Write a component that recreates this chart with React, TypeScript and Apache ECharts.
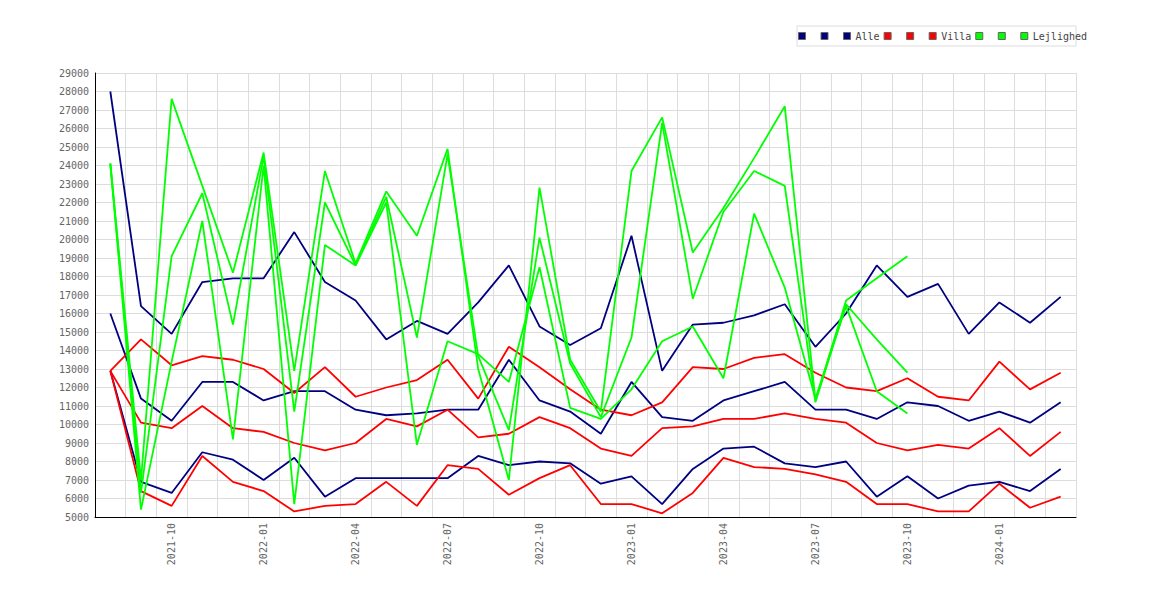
import React, { useEffect, useRef } from "react";
import * as echarts from "echarts";

const months = [
  "2021-08", "2021-09", "2021-10", "2021-11", "2021-12",
  "2022-01", "2022-02", "2022-03", "2022-04", "2022-05", "2022-06",
  "2022-07", "2022-08", "2022-09", "2022-10", "2022-11", "2022-12",
  "2023-01", "2023-02", "2023-03", "2023-04", "2023-05", "2023-06",
  "2023-07", "2023-08", "2023-09", "2023-10", "2023-11", "2023-12",
  "2024-01", "2024-02", "2024-03",
];

const alleHigh = [28000, 16400, 14900, 17700, 17900, 17900, 20400, 17700, 16700, 14600, 15600, 14900, 16600, 18600, 15300, 14300, 15200, 20200, 12900, 15400, 15500, 15900, 16500, 14200, 16000, 18600, 16900, 17600, 14900, 16600, 15500, 16900];
const alleMid = [16000, 11400, 10200, 12300, 12300, 11300, 11800, 11800, 10800, 10500, 10600, 10800, 10800, 13500, 11300, 10700, 9500, 12300, 10400, 10200, 11300, 11800, 12300, 10800, 10800, 10300, 11200, 11000, 10200, 10700, 10100, 11200];
const alleLow = [12900, 6900, 6300, 8500, 8100, 7000, 8200, 6100, 7100, 7100, 7100, 7100, 8300, 7800, 8000, 7900, 6800, 7200, 5700, 7600, 8700, 8800, 7900, 7700, 8000, 6100, 7200, 6000, 6700, 6900, 6400, 7600];

const villaHigh = [12900, 14600, 13200, 13700, 13500, 13000, 11700, 13100, 11500, 12000, 12400, 13500, 11400, 14200, 13100, 11900, 10800, 10500, 11200, 13100, 13000, 13600, 13800, 12800, 12000, 11800, 12500, 11500, 11300, 13400, 11900, 12800];
const villaMid = [12900, 10100, 9800, 11000, 9800, 9600, 9000, 8600, 9000, 10300, 9900, 10800, 9300, 9500, 10400, 9800, 8700, 8300, 9800, 9900, 10300, 10300, 10600, 10300, 10100, 9000, 8600, 8900, 8700, 9800, 8300, 9600];
const villaLow = [12900, 6400, 5600, 8300, 6900, 6400, 5300, 5600, 5700, 6900, 5600, 7800, 7600, 6200, 7100, 7800, 5700, 5700, 5200, 6300, 8200, 7700, 7600, 7300, 6900, 5700, 5700, 5300, 5300, 6800, 5500, 6100];

const lejA = [24100, 7000, 27600, 22900, 18200, 24700, 12900, 23700, 18700, 22600, 20200, 24900, 13000, 7000, 22800, 13500, 10700, 23700, 26600, 19300, 21700, 24400, 27200, 11300, 16700, 17900, 19100];
const lejB = [24100, 6300, 19100, 22500, 15400, 24500, 10700, 22000, 18600, 22300, 14700, 24600, 13700, 9700, 20100, 13300, 10400, 14700, 26300, 16800, 21500, 23700, 22900, 11200, 16500, 14600, 12800];
const lejC = [24100, 5400, 13400, 21000, 9200, 24000, 5700, 19700, 18600, 22000, 8900, 14500, 13800, 12300, 18500, 10900, 10300, 11900, 14500, 15300, 12500, 21400, 17400, 11400, 16400, 11800, 10600];

const NAVY = "#000080";
const RED = "#ff0000";
const GREEN = "#00ff00";
const FONT = "DejaVu Sans Mono";

const seriesDefs = [
  { name: "Alle_1", color: NAVY, data: alleHigh },
  { name: "Alle_2", color: NAVY, data: alleLow },
  { name: "Alle", color: NAVY, data: alleMid },
  { name: "Villa_1", color: RED, data: villaHigh },
  { name: "Villa_2", color: RED, data: villaLow },
  { name: "Villa", color: RED, data: villaMid },
  { name: "Lejlighed_1", color: GREEN, data: lejA },
  { name: "Lejlighed_2", color: GREEN, data: lejC },
  { name: "Lejlighed", color: GREEN, data: lejB },
];

export default function App() {
  const ref = useRef<HTMLDivElement>(null);
  useEffect(() => {
    if (!ref.current) return;
    const chart = echarts.init(ref.current, null, { renderer: "svg" });
    chart.setOption({
      animation: false,
      backgroundColor: "#ffffff",
      textStyle: { fontFamily: FONT },
      grid: { left: 95, right: 94, top: 73, bottom: 83, containLabel: false },
      legend: {
        left: 798,
        top: 31,
        padding: 0,
        itemWidth: 7,
        itemHeight: 7,
        itemGap: 4,
        icon: "rect",
        data: seriesDefs.map((s) => s.name),
        formatter: (name: string) => (name.indexOf("_") >= 0 ? " " : name),
        textStyle: { fontFamily: FONT, fontSize: 10, color: "#444" },
        itemStyle: { borderColor: "#666", borderWidth: 1 },
      },
      graphic: [
        {
          type: "rect",
          shape: { x: 797, y: 26, width: 279, height: 20 },
          style: { fill: "none", stroke: "#dddddd", lineWidth: 1 },
          silent: true,
        },
      ],
      xAxis: {
        type: "category",
        data: months,
        boundaryGap: true,
        axisLine: { show: true, lineStyle: { color: "#000", width: 1 } },
        axisTick: { show: false },
        axisLabel: {
          rotate: 90,
          margin: 6,
          fontFamily: FONT,
          fontSize: 10,
          color: "#666",
          interval: (_i: number, v: string) => /-(01|04|07|10)$/.test(v),
        },
        splitLine: { show: true, interval: 0, lineStyle: { color: "#dddddd", width: 1 } },
      },
      yAxis: {
        type: "value",
        min: 5000,
        max: 29000,
        interval: 1000,
        axisLine: { show: true, lineStyle: { color: "#000", width: 1 } },
        axisTick: { show: false },
        axisLabel: {
          margin: 6,
          fontFamily: FONT,
          fontSize: 10,
          color: "#666",
          formatter: (v: number) => String(v),
        },
        splitLine: { show: true, lineStyle: { color: "#dddddd", width: 1 } },
      },
      series: seriesDefs.map((s) => ({
        name: s.name,
        type: "line",
        data: s.data,
        showSymbol: false,
        symbol: "none",
        color: s.color,
        lineStyle: { color: s.color, width: 1.8 },
        itemStyle: { color: s.color },
      })),
    });
    return () => chart.dispose();
  }, []);
  return (
    <div
      ref={ref}
      style={{ position: "fixed", left: 0, top: 0, width: 1170, height: 600, background: "#fff" }}
    />
  );
}
